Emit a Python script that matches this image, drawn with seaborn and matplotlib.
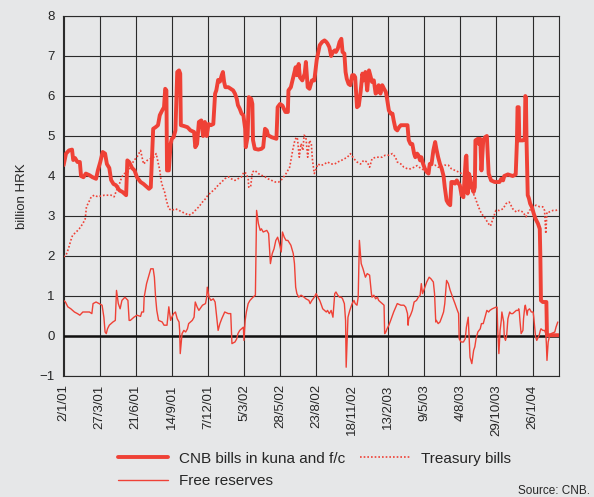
"""
CNB bills, treasury bills and free reserves, 2001-2004 (billion HRK).
"""

import matplotlib

matplotlib.use("Agg")
import matplotlib.pyplot as plt
import pandas as pd
import seaborn as sns

# x values are working-day numbers counted from 2/1/01
tick_days = [0, 60, 120, 180, 240, 300, 360, 420, 480, 540, 600, 660, 720, 780]
tick_labels = ["2/1/01", "27/3/01", "21/6/01", "14/9/01", "7/12/01", "5/3/02",
               "28/5/02", "23/8/02", "18/11/02", "13/2/03", "9/5/03", "4/8/03",
               "29/10/03", "26/1/04"]

cnb_day = [0, 4, 9, 14, 16, 19, 23, 27, 29, 33, 37, 43, 48, 54, 57, 61, 65, 69, 72, 76,
           79, 83, 87, 93, 98, 104, 106, 109, 114, 118, 122, 128, 133, 139, 142, 145, 147,
           149, 153, 157, 160, 164, 167, 169, 171, 172, 175, 178, 180, 183, 186, 189, 192,
           194, 195, 200, 206, 211, 217, 219, 222, 225, 229, 232, 235, 238, 241, 245, 249,
           252, 254, 257, 260, 263, 265, 267, 269, 274, 278, 282, 285, 288, 290, 293, 296,
           299, 302, 303, 306, 308, 312, 314, 315, 318, 324, 329, 332, 335, 338, 340, 346,
           354, 356, 360, 364, 369, 373, 374, 378, 382, 386, 388, 391, 393, 397, 401, 403,
           406, 409, 413, 417, 421, 426, 430, 434, 437, 439, 442, 445, 448, 451, 453, 456,
           459, 462, 464, 467, 469, 471, 474, 477, 480, 483, 485, 488, 491, 494, 497, 499,
           502, 505, 508, 511, 513, 516, 519, 522, 524, 527, 530, 533, 536, 538, 541, 544,
           547, 549, 552, 555, 558, 561, 566, 572, 574, 577, 580, 583, 585, 588, 590, 593,
           595, 598, 601, 604, 607, 609, 612, 615, 618, 620, 623, 626, 629, 632, 634, 637,
           640, 643, 645, 648, 651, 654, 657, 659, 662, 665, 668, 669, 670, 672, 674, 676,
           679, 682, 684, 685, 689, 691, 693, 695, 698, 701, 704, 707, 711, 717, 725, 728,
           731, 733, 739, 747, 752, 754, 755, 757, 758, 764, 767, 768, 769, 770, 772, 774,
           776, 779, 782, 785, 789, 792, 793, 794, 797, 803, 804, 808, 814, 823]
cnb_bn = [4.27, 4.56, 4.64, 4.66, 4.40, 4.45, 4.35, 4.35, 4.00, 3.97, 4.06, 4.02, 3.97,
          3.93, 4.14, 4.35, 4.60, 4.56, 4.30, 4.20, 3.90, 3.80, 3.77, 3.64, 3.60, 3.52,
          4.39, 4.35, 4.20, 4.14, 3.97, 3.85, 3.80, 3.72, 3.68, 3.72, 4.47, 5.18, 5.22,
          5.27, 5.52, 5.64, 5.72, 6.18, 6.14, 4.14, 4.14, 4.80, 4.93, 4.97, 5.14, 6.60,
          6.64, 6.56, 5.27, 5.25, 5.22, 5.14, 5.10, 4.72, 4.80, 5.35, 5.39, 5.00, 5.35,
          5.00, 5.30, 5.27, 5.30, 6.06, 6.14, 6.40, 6.36, 6.52, 6.60, 6.35, 6.22, 6.22,
          6.18, 6.14, 6.06, 5.93, 5.77, 5.68, 5.56, 5.52, 5.18, 4.72, 4.97, 5.97, 5.93,
          5.80, 4.90, 4.68, 4.66, 4.68, 4.72, 5.18, 5.14, 5.02, 4.97, 4.93, 5.72, 5.80,
          5.76, 5.60, 5.60, 6.14, 6.22, 6.47, 6.72, 6.52, 6.80, 6.47, 6.39, 6.56, 6.85,
          6.22, 6.18, 6.39, 6.39, 6.90, 7.27, 7.35, 7.39, 7.35, 7.31, 7.22, 7.00, 7.10,
          7.14, 7.10, 7.18, 7.35, 7.43, 7.10, 7.06, 6.60, 6.43, 6.30, 6.27, 6.52, 6.52,
          6.47, 5.72, 5.76, 6.10, 6.56, 6.39, 6.60, 6.14, 6.64, 6.47, 6.35, 6.39, 6.06,
          6.10, 6.27, 6.06, 6.27, 6.18, 6.10, 5.93, 5.64, 5.56, 5.56, 5.39, 5.18, 5.14,
          5.22, 5.27, 5.27, 5.27, 4.90, 4.80, 4.80, 4.56, 4.47, 4.56, 4.52, 4.39, 4.47,
          4.30, 4.18, 4.10, 4.06, 4.30, 4.30, 4.64, 4.85, 4.68, 4.47, 4.30, 4.18, 4.00,
          3.72, 3.39, 3.31, 3.27, 3.85, 3.85, 3.81, 3.89, 3.81, 3.77, 3.52, 3.47, 4.22,
          4.47, 4.51, 3.56, 4.06, 3.97, 3.72, 3.60, 3.72, 4.89, 4.93, 4.80, 4.93, 4.14,
          4.89, 4.97, 5.00, 4.06, 3.89, 3.85, 3.85, 3.93, 3.89, 4.00, 4.04, 4.00, 4.04,
          4.85, 5.72, 5.72, 4.89, 4.89, 4.93, 6.00, 5.96, 4.89, 3.52, 3.44, 3.31, 3.22,
          3.06, 2.93, 2.81, 2.68, 1.98, 0.89, 0.85, 0.85, 0.02, 0.02, 0.02, 0.02]

tb_day = [0, 4, 8, 12, 15, 21, 26, 32, 36, 38, 42, 46, 51, 57, 62, 68, 73, 79, 84, 87,
          93, 97, 101, 107, 111, 117, 122, 128, 133, 139, 144, 150, 154, 157, 160, 162,
          165, 168, 171, 175, 180, 186, 192, 197, 203, 208, 214, 219, 225, 231, 236, 240,
          246, 252, 257, 263, 268, 274, 279, 285, 290, 296, 300, 304, 307, 308, 311, 314,
          318, 324, 329, 335, 340, 346, 352, 358, 364, 370, 376, 378, 381, 384, 387, 389,
          392, 395, 398, 400, 403, 406, 409, 412, 414, 417, 420, 423, 428, 434, 439, 445,
          451, 456, 462, 467, 472, 477, 483, 488, 494, 499, 505, 509, 513, 519, 524, 530,
          535, 541, 547, 552, 555, 561, 566, 572, 577, 583, 588, 595, 601, 607, 612, 618,
          623, 629, 634, 640, 645, 651, 657, 662, 668, 673, 679, 684, 690, 695, 701, 706,
          710, 714, 719, 725, 731, 736, 741, 744, 747, 753, 758, 764, 769, 772, 775, 781,
          786, 792, 797, 800, 802, 804, 808, 814, 819, 823]
tb_bn = [1.98, 2.02, 2.18, 2.39, 2.52, 2.60, 2.68, 2.81, 2.93, 3.23, 3.35, 3.48, 3.52,
         3.48, 3.50, 3.52, 3.52, 3.52, 3.48, 3.60, 3.81, 3.98, 4.06, 4.10, 4.22, 4.39,
         4.47, 4.64, 4.30, 4.39, 4.43, 4.47, 4.56, 4.35, 4.14, 3.89, 3.72, 3.60, 3.39,
         3.18, 3.14, 3.18, 3.14, 3.10, 3.06, 3.02, 3.06, 3.14, 3.23, 3.35, 3.43, 3.52,
         3.60, 3.68, 3.77, 3.85, 3.93, 3.98, 3.93, 3.89, 3.93, 3.98, 4.10, 4.06, 3.93,
         3.72, 3.72, 4.10, 4.14, 4.06, 4.02, 3.98, 3.93, 3.89, 3.85, 3.85, 3.93, 4.06,
         4.22, 4.39, 4.64, 4.85, 4.97, 4.93, 4.47, 4.81, 4.64, 5.02, 4.97, 4.47, 4.89,
         4.81, 4.39, 4.06, 4.18, 4.30, 4.26, 4.30, 4.35, 4.30, 4.30, 4.35, 4.39, 4.43,
         4.47, 4.56, 4.43, 4.35, 4.30, 4.39, 4.35, 4.22, 4.43, 4.47, 4.47, 4.47, 4.52,
         4.52, 4.56, 4.47, 4.35, 4.30, 4.22, 4.18, 4.18, 4.22, 4.26, 4.18, 4.14, 4.22,
         4.27, 4.27, 4.22, 4.22, 4.27, 4.27, 4.18, 4.14, 4.10, 4.06, 3.98, 3.81, 3.64,
         3.48, 3.23, 3.06, 2.95, 2.82, 2.75, 2.92, 3.14, 3.14, 3.18, 3.31, 3.35, 3.27,
         3.18, 3.10, 3.14, 3.10, 2.98, 3.06, 3.14, 3.23, 3.27, 3.23, 3.23, 3.14, 2.56,
         3.10, 3.10, 3.14, 3.14, 3.18]

fr_day = [0, 3, 7, 12, 18, 23, 27, 32, 37, 43, 47, 49, 54, 59, 64, 67, 69, 71, 73, 76,
          82, 86, 88, 91, 94, 97, 102, 107, 109, 111, 117, 122, 128, 130, 133, 134, 138,
          142, 145, 149, 151, 153, 155, 158, 164, 167, 172, 175, 178, 180, 183, 186, 189,
          192, 193, 194, 197, 200, 203, 206, 208, 211, 214, 217, 219, 222, 225, 231, 236,
          238, 239, 242, 245, 249, 252, 254, 257, 260, 263, 268, 274, 278, 280, 285, 288,
          290, 293, 296, 299, 300, 302, 304, 307, 310, 315, 319, 321, 324, 327, 329, 332,
          338, 341, 344, 347, 350, 353, 356, 359, 362, 364, 367, 370, 373, 378, 382, 384,
          386, 388, 391, 395, 400, 403, 408, 410, 413, 417, 420, 423, 426, 428, 431, 434,
          437, 439, 442, 445, 448, 451, 453, 456, 459, 462, 464, 467, 469, 470, 473, 476,
          480, 483, 485, 488, 490, 492, 495, 498, 502, 505, 509, 512, 513, 516, 519, 522,
          524, 527, 530, 533, 534, 536, 538, 541, 544, 549, 555, 561, 566, 569, 572, 573,
          574, 577, 580, 583, 587, 590, 593, 595, 597, 600, 604, 608, 611, 615, 617, 619,
          620, 623, 626, 629, 632, 634, 637, 640, 643, 645, 648, 651, 654, 657, 658, 661,
          665, 668, 670, 673, 675, 676, 679, 682, 684, 686, 689, 693, 695, 698, 701, 704,
          707, 709, 713, 719, 721, 722, 724, 726, 728, 729, 732, 733, 735, 737, 739, 742,
          744, 747, 750, 753, 756, 757, 758, 759, 761, 764, 765, 767, 768, 771, 772, 775,
          778, 781, 782, 785, 787, 791, 793, 794, 797, 800, 802, 803, 804, 806, 808, 811,
          814, 817, 819, 822]
fr_bn = [0.89, 0.85, 0.73, 0.68, 0.60, 0.56, 0.52, 0.60, 0.60, 0.60, 0.56, 0.81, 0.85,
         0.81, 0.77, 0.47, 0.10, 0.06, 0.18, 0.27, 0.35, 0.39, 1.14, 0.81, 0.68, 0.89,
         0.97, 0.89, 0.39, 0.39, 0.47, 0.52, 0.49, 0.60, 0.60, 0.97, 1.31, 1.52, 1.68,
         1.68, 1.47, 0.97, 0.64, 0.39, 0.35, 0.27, 0.27, 0.73, 0.39, 0.47, 0.56, 0.60,
         0.43, 0.35, 0.14, -0.44, 0.06, 0.14, 0.10, 0.18, 0.31, 0.35, 0.39, 0.47, 0.85,
         0.73, 0.64, 0.77, 0.81, 0.97, 1.22, 0.97, 0.89, 0.93, 0.85, 0.56, 0.14, 0.31,
         0.43, 0.60, 0.56, 0.56, -0.19, -0.15, -0.07, 0.06, 0.14, 0.18, 0.22, -0.11,
         0.39, 0.60, 0.81, 0.89, 0.97, 1.02, 3.14, 2.81, 2.64, 2.68, 2.60, 2.64, 2.56,
         1.81, 2.06, 2.18, 2.39, 2.47, 2.31, 2.10, 2.60, 2.47, 2.39, 2.39, 2.27, 2.06,
         1.81, 1.22, 1.06, 0.97, 1.02, 0.97, 0.93, 0.89, 0.81, 0.89, 0.97, 1.06, 0.97,
         0.89, 0.81, 0.68, 0.64, 0.60, 0.64, 0.56, 0.64, 0.47, 1.06, 1.10, 1.02, 0.97,
         0.97, 0.93, 0.81, 0.39, -0.78, 0.47, 0.64, 0.81, 0.89, 0.81, 0.77, 0.97, 2.39,
         1.81, 1.68, 1.47, 1.56, 1.52, 1.06, 0.97, 1.02, 0.93, 0.97, 0.89, 0.85, 0.81,
         0.77, 0.06, 0.10, 0.18, 0.27, 0.39, 0.60, 0.81, 0.77, 0.77, 0.72, 0.56, 0.27,
         0.43, 0.52, 0.64, 0.85, 0.89, 0.97, 1.02, 1.31, 1.06, 1.18, 1.35, 1.47, 1.43,
         1.35, 1.06, 0.35, 0.39, 0.31, 0.35, 0.47, 0.60, 0.81, 1.39, 1.31, 1.14, 1.06,
         0.93, 0.81, 0.68, 0.56, -0.07, -0.15, -0.15, -0.07, 0.22, 0.47, -0.19, -0.53,
         -0.69, -0.36, -0.27, -0.07, 0.10, 0.18, 0.31, 0.31, 0.47, 0.64, 0.60, 0.64,
         0.68, 0.72, 0.72, 0.18, -0.44, 0.14, 0.39, 0.60, 0.35, -0.02, -0.11, 0.02, 0.43,
         0.60, 0.56, 0.56, 0.60, 0.64, 0.64, 0.68, 0.60, 0.39, 0.06, 0.14, 0.43, 0.72,
         0.77, 0.52, 0.64, 0.68, 0.60, 0.60, 0.47, -0.02, -0.11, 0.02, 0.14, 0.18, 0.14,
         0.14, 0.06, -0.19, -0.61, -0.15, -0.02, 0.06, 0.08, 0.10, 0.22, 0.35]

RED = "#ef4136"
BG = "#e6e7e8"

sns.set_style("white")
plt.rcParams["font.family"] = ["Liberation Sans", "DejaVu Sans"]

fig = plt.figure(figsize=(5.94, 4.97), dpi=100, facecolor=BG)
ax = fig.add_axes([63 / 594, 1 - 376 / 497, (559 - 63) / 594, 360 / 497])
ax.set_facecolor(BG)

cnb = pd.DataFrame({"day": cnb_day, "bn": cnb_bn})
tb = pd.DataFrame({"day": tb_day, "bn": tb_bn})
fr = pd.DataFrame({"day": fr_day, "bn": fr_bn})

sns.lineplot(data=tb, x="day", y="bn", ax=ax, color=RED, lw=1.2, linestyle=(0, (1, 1.2)),
             estimator=None, label="Treasury bills")
sns.lineplot(data=fr, x="day", y="bn", ax=ax, color=RED, lw=1.0, estimator=None,
             label="Free reserves")
sns.lineplot(data=cnb, x="day", y="bn", ax=ax, color=RED, lw=2.8, estimator=None,
             label="CNB bills in kuna and f/c")

ax.set_xlim(-1, 824)
ax.set_ylim(-1, 8)
ax.set_xticks(tick_days)
ax.set_xticklabels(tick_labels, rotation=90, fontsize=9.5)
ax.set_yticks(range(-1, 9))
ax.set_yticklabels([f"{v}".replace("-", "\u2212") for v in range(-1, 9)], fontsize=9.5)
ax.set_xlabel("")
ax.set_ylabel("billion HRK", fontsize=9.5, labelpad=8)
ax.grid(True, color="#2b2b2b", lw=0.8)
ax.set_axisbelow(True)
ax.axhline(0, color="#111111", lw=1.8, zorder=1.5)
for sp in ax.spines.values():
    sp.set_color("#2b2b2b")
    sp.set_linewidth(0.8)
ax.tick_params(axis="both", length=4, width=0.8, color="#2b2b2b", pad=2)

handles, labels = ax.get_legend_handles_labels()
ax.get_legend().remove()
order = [2, 1, 0]
fig.legend([handles[i] for i in order], [labels[i] for i in order], ncol=2,
           loc="upper left", bbox_to_anchor=(110 / 594, 1 - 444 / 497), frameon=False,
           fontsize=11, handlelength=3.3, handletextpad=0.7, columnspacing=1.0,
           borderpad=0, labelspacing=0.55)

fig.text(590 / 594, 1 - 491 / 497, "Source: CNB.", ha="right", va="center", fontsize=8.5)

fig.savefig("out.png", dpi=100, facecolor=BG)
plt.close(fig)
